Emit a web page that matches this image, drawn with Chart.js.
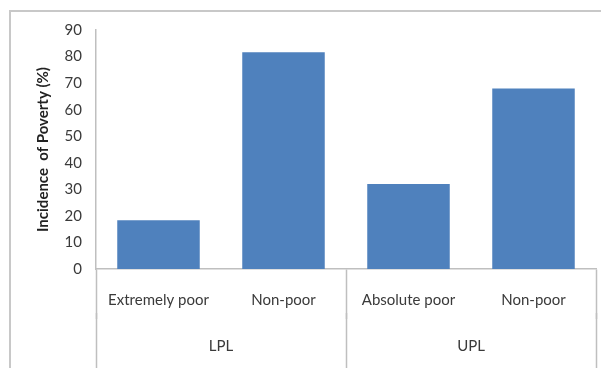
<!DOCTYPE html>
<html>
<head>
<meta charset="utf-8">
<script src="https://cdn.jsdelivr.net/npm/chart.js@4/dist/chart.umd.min.js"></script>
<style>
  html, body { margin: 0; padding: 0; background: #fff; }
  #wrap { position: relative; width: 601px; height: 368px; overflow: hidden; }
  #frame { position: absolute; left: 9px; top: 10px; width: 620px; height: 400px;
           border-left: 2px solid #c8c8c8; border-top: 2px solid #c8c8c8; }
  canvas { position: absolute; left: 0; top: 0; }
</style>
</head>
<body>
<div id="wrap">
  <div id="frame"></div>
  <canvas id="chart" width="601" height="368"></canvas>
</div>
<script>
// data
const categories = ['Extremely poor', 'Non-poor', 'Absolute poor', 'Non-poor'];
const groups     = ['LPL', 'UPL'];
const incidence  = [18.4, 81.6, 32.0, 68.0];
const yTicks     = [0, 10, 20, 30, 40, 50, 60, 70, 80, 90];

const lineGray = '#bfbfbf';
const textGray = '#3a3a3a';
const tickFont = { family: 'Lato', size: 15 };

const chart = new Chart(document.getElementById('chart'), {
  type: 'bar',
  data: {
    labels: categories,
    datasets: [{
      label: 'Incidence of Poverty (%)',
      data: incidence,
      backgroundColor: '#4f81bd',
      borderWidth: 0,
      barPercentage: 0.66,
      categoryPercentage: 1.0
    }]
  },
  options: {
    responsive: false,
    animation: false,
    layout: { padding: { left: 0, right: 5, top: 30, bottom: 0 } },
    plugins: { legend: { display: false }, tooltip: { enabled: false } },
    scales: {
      x: {
        type: 'category',
        offset: true,
        weight: 0,
        afterFit: s => { s.height = 44; },   // labels are clipped to the axis box
        grid: {
          offset: true,
          drawOnChartArea: false,
          tickLength: 50,
          tickWidth: 1.5,
          // only group boundaries, not between subcategories
          tickColor: c => (c.index === 1 || c.index === 3) ? 'rgba(0,0,0,0)' : lineGray
        },
        border: { display: true, color: lineGray, width: 1.5 },
        ticks: { color: textGray, font: tickFont, padding: -28, maxRotation: 0, autoSkip: false }
      },
      x2: {
        type: 'category',
        position: 'bottom',
        labels: groups,
        offset: true,
        weight: 1,
        afterFit: s => { s.height = 55; },
        grid: {
          offset: true,
          drawOnChartArea: false,
          tickLength: 70,
          tickWidth: 1.5,
          tickColor: lineGray
        },
        border: { display: false },
        ticks: { color: textGray, font: tickFont, padding: -46, maxRotation: 0 }
      },
      y: {
        min: 0,
        max: 90,
        afterBuildTicks: s => { s.ticks = yTicks.map(v => ({ value: v })); },
        afterFit: s => { s.width = 96; },
        grid: { display: false, drawTicks: false },
        border: { display: true, color: lineGray, width: 1.5 },
        ticks: { color: textGray, font: tickFont, padding: 14 },
        title: {
          display: true,
          text: 'Incidence  of Poverty (%)',
          color: '#222',
          font: { family: 'Lato', size: 15, weight: 'bold' },
          padding: { top: 34, bottom: 0 }
        }
      }
    }
  }
});
</script>
</body>
</html>
